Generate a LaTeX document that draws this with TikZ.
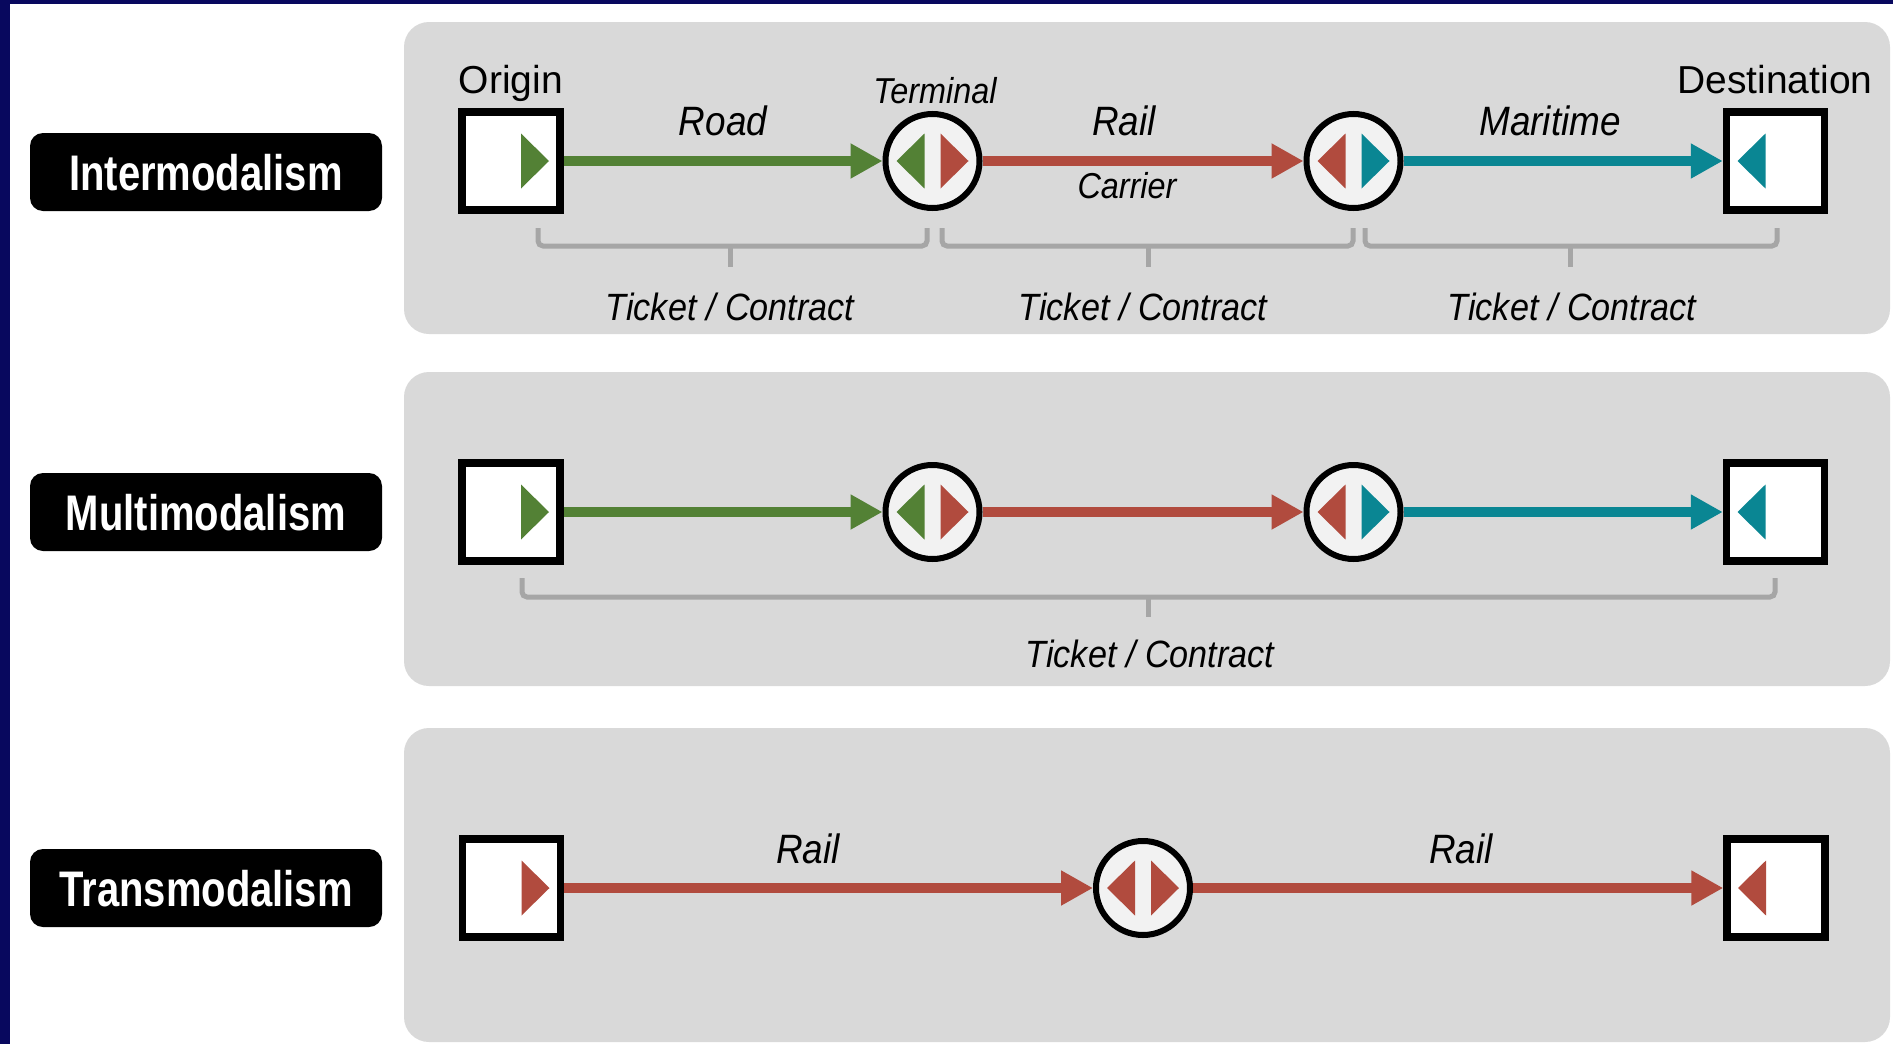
\documentclass[tikz,border=0pt]{standalone}
\usepackage{fontspec}
\setmainfont{Liberation Sans}
\newfontfamily\labelfont[FakeStretch=0.8]{Liberation Sans}
\newfontfamily\modefont[FakeStretch=0.9]{Liberation Sans}
\usetikzlibrary{arrows.meta}

\definecolor{frame}{HTML}{08085E}
\definecolor{panelgrey}{HTML}{D9D9D9}
\definecolor{bracketgrey}{HTML}{A6A6A6}
\definecolor{hubfill}{HTML}{F2F2F2}
\definecolor{roadgreen}{HTML}{538135}
\definecolor{railred}{HTML}{B14B3E}
\definecolor{seateal}{HTML}{0A8693}

\tikzset{
  panel/.style={fill=panelgrey, rounded corners=25pt},
  tag/.style={fill=black, rounded corners=13pt, text=white, inner sep=0pt,
    minimum width=352pt, minimum height=78pt, text height=36pt, text depth=0pt,
    font=\labelfont\bfseries\fontsize{50}{50}\selectfont},
  endbox/.style={draw=black, fill=white, line width=7.5pt, inner sep=0pt,
    minimum width=98pt, minimum height=98pt},
  hub/.style={circle, draw=black, fill=hubfill, line width=6pt, inner sep=0pt,
    minimum size=94pt},
  leg/.style={line width=10pt, -{Triangle[length=32pt,width=33pt]}},
  place/.style={anchor=base, inner sep=0pt, font=\fontsize{39}{39}\selectfont},
  mode/.style={anchor=base, inner sep=0pt, font=\modefont\itshape\fontsize{41}{41}\selectfont},
  note/.style={anchor=base, inner sep=0pt, font=\modefont\itshape\fontsize{36}{36}\selectfont},
  contract/.style={anchor=base, inner sep=0pt, font=\modefont\itshape\fontsize{38}{38}\selectfont},
  bracket/.style={draw=bracketgrey, line width=5pt, rounded corners=5pt},
  pics/fwd/.style={code={\fill (#1,-27.5) -- ++(28,27.5) -- ++(-28,27.5) -- cycle;}},
  pics/back/.style={code={\fill (-#1,-27.5) -- ++(-28,27.5) -- ++(28,27.5) -- cycle;}},
}

\begin{document}
\begin{tikzpicture}[x=1pt, y=-1pt]
\useasboundingbox (0,0) rectangle (1893,1044);

% frame and page
\fill[frame] (0,0) rectangle (1893,1044);
\fill[white] (10,4) rectangle (1893,1044);

% grey bands
\fill[panel] (404,22) rectangle (1890,334);
\fill[panel] (404,372) rectangle (1890,686);
\fill[panel] (404,728) rectangle (1890,1042);

% row titles
\node[tag] (tInter) at (206,172) {Intermodalism};
\node[tag] (tMulti) at (206,512) {Multimodalism};
\node[tag] (tTrans) at (206,888) {Transmodalism};

% ---------- Intermodalism ----------
\node[endbox] (o1) at (511,161) {};
\node[hub] (a1) at (932.5,161) {};
\node[hub] (b1) at (1353.5,161) {};
\node[endbox] (d1) at (1775.5,161) {};

\draw[leg, roadgreen] (o1.east) -- (a1.west);
\draw[leg, railred] (a1.east) -- (b1.west);
\draw[leg, seateal] (b1.east) -- (d1.west);

\pic[roadgreen] at (o1) {fwd=10};
\pic[roadgreen] at (a1) {back=8};
\pic[railred] at (a1) {fwd=8};
\pic[railred] at (b1) {back=8};
\pic[seateal] at (b1) {fwd=8};
\pic[seateal] at (d1) {back=10};

\node[place] (lOrigin) at (511,93) {Origin};
\node[place] (lDest) at (1775,93) {Destination};
\node[note] (lTerminal) at (935,103) {Terminal};
\node[mode] (lRoad) at (723,135) {Road};
\node[mode] (lRail) at (1124,135) {Rail};
\node[note] (lCarrier) at (1127,198) {Carrier};
\node[mode] (lSea) at (1550,135) {Maritime};

\draw[bracket] (538,228) -- (538,246) -- (927,246) -- (927,228);
\draw[bracket] (730,246) -- (730,267);
\draw[bracket] (942,228) -- (942,246) -- (1353,246) -- (1353,228);
\draw[bracket] (1148,246) -- (1148,267);
\draw[bracket] (1365,228) -- (1365,246) -- (1777,246) -- (1777,228);
\draw[bracket] (1570,246) -- (1570,267);

\node[contract] (c1) at (730,320) {Ticket / Contract};
\node[contract] (c2) at (1143,320) {Ticket / Contract};
\node[contract] (c3) at (1572,320) {Ticket / Contract};

% ---------- Multimodalism ----------
\node[endbox] (o2) at (511,512) {};
\node[hub] (a2) at (932.5,512) {};
\node[hub] (b2) at (1353.5,512) {};
\node[endbox] (d2) at (1775.5,512) {};

\draw[leg, roadgreen] (o2.east) -- (a2.west);
\draw[leg, railred] (a2.east) -- (b2.west);
\draw[leg, seateal] (b2.east) -- (d2.west);

\pic[roadgreen] at (o2) {fwd=10};
\pic[roadgreen] at (a2) {back=8};
\pic[railred] at (a2) {fwd=8};
\pic[railred] at (b2) {back=8};
\pic[seateal] at (b2) {fwd=8};
\pic[seateal] at (d2) {back=10};

\draw[bracket] (522,578) -- (522,597) -- (1775,597) -- (1775,578);
\draw[bracket] (1148,597) -- (1148,617);
\node[contract] (c4) at (1150,667) {Ticket / Contract};

% ---------- Transmodalism ----------
\node[endbox] (o3) at (511.5,888) {};
\node[hub] (a3) at (1143,888) {};
\node[endbox] (d3) at (1776,888) {};

\draw[leg, railred] (o3.east) -- (a3.west);
\draw[leg, railred] (a3.east) -- (d3.west);

\pic[railred] at (o3) {fwd=10};
\pic[railred] at (a3) {back=8};
\pic[railred] at (a3) {fwd=8};
\pic[railred] at (d3) {back=10};

\node[mode] (lRailA) at (808,863) {Rail};
\node[mode] (lRailB) at (1461,863) {Rail};
\end{tikzpicture}
\end{document}
